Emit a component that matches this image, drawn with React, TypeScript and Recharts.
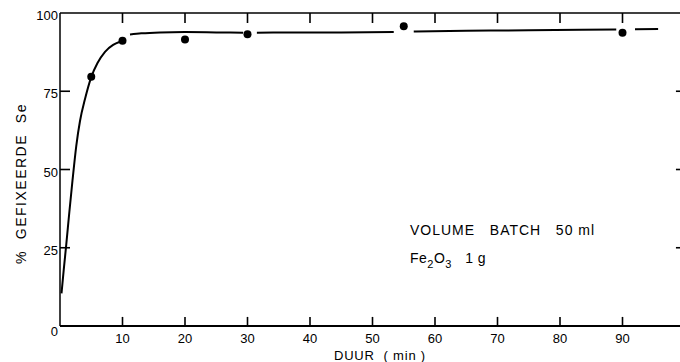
import React from 'react'
import { ComposedChart, Line, Scatter, XAxis, YAxis, ReferenceLine } from 'recharts'

// measured points (duur in min, % gefixeerde Se)
const pointX = [5, 10, 20, 30, 55, 90]
const pointY = [79.6, 91.1, 91.5, 93.2, 95.8, 93.7]

// hand-drawn fit curve, null = gap in the line around a point
const curveX = [
  0.24, 0.6, 1.0, 1.5, 2.0, 2.6, 3.2, 4.0, 5, 6, 7.2, 8.5, 9.6,
  10.5,
  11.2, 13, 16, 20, 25, 29.3,
  30.5,
  31.5, 40, 45, 53.4,
  55,
  56.6, 65, 75, 89,
  90.5,
  92, 95.7,
]
const curveY: (number | null)[] = [
  10.4, 18, 26, 36.5, 46.5, 57.5, 65.5, 72.5, 79.5, 84, 87.6, 89.8, 90.8,
  null,
  93.1, 93.5, 93.8, 93.9, 93.8, 93.7,
  null,
  93.7, 93.8, 93.8, 93.9,
  null,
  94.1, 94.3, 94.5, 94.7,
  null,
  94.8, 94.9,
]

const xTicks = [0, 10, 20, 30, 40, 50, 60, 70, 80, 90]
const yTicks = [0, 25, 50, 75, 100]
const xInnerTicks = [10, 20, 30, 40, 50, 60, 70, 80, 90]
const yInnerTicks = [25, 50, 75]

const X_MAX = 99.2

const points = pointX.map((x, i) => ({ x, y: pointY[i] }))
const curve = curveX.map((x, i) => ({ x, y: curveY[i] }))

const FONT = '"Liberation Sans", Arial, sans-serif'
const W = 680
const H = 362
const PLOT_TOP = 13

// inward tick lengths in axis units (~9 px up, ~10 px down, 10 px / 4 px sideways)
const TICK_UP = 2.9
const TICK_DOWN = 3.2
const TICK_LEFT = 1.6
const TICK_RIGHT = 0.65

function renderXTick(props: any) {
  const x = Number(props.x)
  const y = Number(props.y)
  const v = props.payload.value
  if (v === 0) return <g />
  return (
    <text x={x} y={y + 17} textAnchor="middle" fontFamily={FONT} fontSize={13} fill="#000">
      {v}
    </text>
  )
}

function renderYTick(props: any) {
  const x = Number(props.x)
  const y = Number(props.y)
  const v = props.payload.value
  return (
    <text x={x - 2} y={y + (v === 0 ? 10 : 7)} textAnchor="end" fontFamily={FONT} fontSize={13} fill="#000">
      {v}
    </text>
  )
}

const tickStyle = { stroke: '#000', strokeWidth: 1.6, ifOverflow: 'visible' as const }

export default function App() {
  return (
    <div style={{ position: 'absolute', left: 0, top: 0, width: W, height: H, background: '#fff' }}>
      <ComposedChart width={W} height={H} margin={{ top: PLOT_TOP, right: 0, bottom: 0, left: 0 }}>
        <XAxis
          dataKey="x"
          type="number"
          domain={[0, X_MAX]}
          ticks={xTicks}
          height={36}
          tickSize={0}
          tickMargin={0}
          tickLine={false}
          axisLine={{ stroke: '#000', strokeWidth: 2 }}
          tick={renderXTick}
          allowDataOverflow
        />
        <YAxis
          type="number"
          domain={[0, 100]}
          ticks={yTicks}
          width={60}
          tickSize={0}
          tickMargin={0}
          tickLine={false}
          axisLine={{ stroke: '#000', strokeWidth: 1.5 }}
          tick={renderYTick}
          allowDataOverflow
        />
        <ReferenceLine y={100} stroke="#000" strokeWidth={1.5} />
        {xInnerTicks.map((t) => (
          <ReferenceLine key={`b${t}`} segment={[{ x: t, y: 0 }, { x: t, y: TICK_UP }]} {...tickStyle} />
        ))}
        {xInnerTicks.map((t) => (
          <ReferenceLine key={`t${t}`} segment={[{ x: t, y: 100 }, { x: t, y: 100 - TICK_DOWN }]} {...tickStyle} />
        ))}
        {yInnerTicks.map((t) => (
          <ReferenceLine key={`l${t}`} segment={[{ x: 0, y: t }, { x: TICK_LEFT, y: t }]} {...tickStyle} />
        ))}
        {yInnerTicks.map((t) => (
          <ReferenceLine key={`r${t}`} segment={[{ x: X_MAX - TICK_RIGHT, y: t }, { x: X_MAX, y: t }]} {...tickStyle} />
        ))}
        <Line
          data={curve}
          dataKey="y"
          type="monotone"
          stroke="#000"
          strokeWidth={2}
          dot={false}
          activeDot={false}
          connectNulls={false}
          isAnimationActive={false}
        />
        <Scatter
          data={points}
          dataKey="y"
          fill="#000"
          isAnimationActive={false}
          shape={(p: any) => <circle cx={p.cx} cy={p.cy} r={4} fill="#000" />}
        />
      </ComposedChart>
      <svg
        width={W}
        height={H}
        style={{ position: 'absolute', left: 0, top: 0, pointerEvents: 'none' }}
        fontFamily={FONT}
        fill="#000"
      >
        <text
          transform="translate(21,183.5) rotate(-90)"
          textAnchor="middle"
          dominantBaseline="central"
          fontSize={14}
          letterSpacing={1.5}
          style={{ whiteSpace: 'pre' }}
        >
          {'%  GEFIXEERDE  Se'}
        </text>
        <text x={380} y={360} textAnchor="middle" fontSize={13} letterSpacing={0.8} style={{ whiteSpace: 'pre' }}>
          {'DUUR  ( min )'}
        </text>
        <text x={410} y={235} fontSize={14} letterSpacing={1} style={{ whiteSpace: 'pre' }}>
          {'VOLUME   BATCH   50 ml'}
        </text>
        <text x={410} y={263} fontSize={14} letterSpacing={0.5} style={{ whiteSpace: 'pre' }}>
          Fe
          <tspan fontSize={11} dy={5}>2</tspan>
          <tspan dy={-5}>O</tspan>
          <tspan fontSize={11} dy={5}>3</tspan>
          <tspan dy={-5}>{'   1 g'}</tspan>
        </text>
      </svg>
    </div>
  )
}
